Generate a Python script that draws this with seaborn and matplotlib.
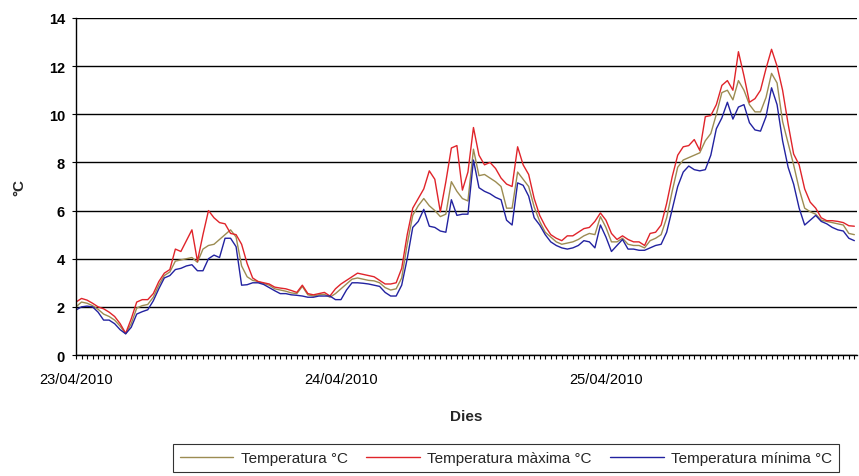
import numpy as np
import pandas as pd
import matplotlib
matplotlib.use('Agg')
import matplotlib.pyplot as plt
import matplotlib.dates as mdates
import seaborn as sns

# Lectures cada 30 minuts, 23/04/2010 00:00 -> 25/04/2010 ~22:30
temp = [2.0, 2.2, 2.15, 2.05, 1.9, 1.7, 1.6, 1.45, 1.2, 0.88,
        1.3, 1.95, 2.05, 2.1, 2.4, 2.9, 3.3, 3.45, 3.9, 3.95,
        4.0, 4.05, 3.85, 4.4, 4.55, 4.6, 4.8, 5.0, 5.2, 4.9,
        3.7, 3.25, 3.1, 3.05, 2.97, 2.9, 2.75, 2.7, 2.65, 2.58,
        2.55, 2.85, 2.5, 2.45, 2.5, 2.52, 2.4, 2.55, 2.75, 2.95,
        3.15, 3.2, 3.15, 3.1, 3.08, 3.0, 2.8, 2.7, 2.75, 3.2,
        4.6, 5.8, 6.2, 6.5, 6.2, 6.0, 5.75, 5.85, 7.2, 6.8,
        6.5, 6.4, 8.55, 7.45, 7.5, 7.35, 7.2, 7.0, 6.1, 6.1,
        7.6, 7.3, 7.0, 6.15, 5.55, 5.1, 4.9, 4.7, 4.6, 4.65,
        4.7, 4.8, 4.95, 5.05, 5.0, 5.75, 5.3, 4.7, 4.7, 4.85,
        4.6, 4.55, 4.55, 4.45, 4.75, 4.85, 5.0, 5.7, 6.8, 7.8,
        8.1, 8.2, 8.3, 8.4, 8.9, 9.2, 10.0, 10.9, 11.0, 10.6,
        11.4, 11.0, 10.4, 10.1, 10.1, 10.7, 11.7, 11.3, 9.7, 8.8,
        7.9, 6.9, 6.1, 5.95, 5.85, 5.6, 5.55, 5.5, 5.45, 5.4,
        5.05, 5.0]

temp_max = [2.2, 2.35, 2.28, 2.15, 2.0, 1.92, 1.78, 1.6, 1.3, 0.9,
            1.5, 2.2, 2.3, 2.3, 2.55, 3.05, 3.4, 3.55, 4.4, 4.3,
            4.75, 5.2, 3.9, 5.0, 6.0, 5.7, 5.5, 5.45, 5.05, 5.0,
            4.6, 3.8, 3.2, 3.05, 3.0, 2.95, 2.82, 2.78, 2.75, 2.68,
            2.6, 2.9, 2.55, 2.5, 2.55, 2.6, 2.45, 2.75, 2.95, 3.1,
            3.25, 3.4, 3.35, 3.3, 3.25, 3.1, 2.95, 2.95, 3.0, 3.6,
            5.0, 6.1, 6.5, 6.9, 7.65, 7.3, 5.95, 7.2, 8.6, 8.7,
            6.85, 7.6, 9.45, 8.3, 7.9, 8.0, 7.75, 7.35, 7.1, 7.0,
            8.65, 7.9, 7.5, 6.5, 5.8, 5.35, 5.0, 4.85, 4.75, 4.95,
            4.95, 5.1, 5.25, 5.3, 5.55, 5.9, 5.6, 5.05, 4.8, 4.95,
            4.8, 4.7, 4.7, 4.55, 5.05, 5.1, 5.4, 6.3, 7.4, 8.3,
            8.65, 8.7, 8.95, 8.5, 9.9, 9.95, 10.4, 11.2, 11.4, 11.0,
            12.6, 11.6, 10.5, 10.65, 11.0, 11.9, 12.7, 12.0, 11.0, 9.6,
            8.35, 7.9, 6.9, 6.35, 6.1, 5.7, 5.58, 5.58, 5.55, 5.5,
            5.37, 5.35]

temp_min = [1.87, 2.0, 2.03, 2.0, 1.78, 1.45, 1.45, 1.3, 1.05, 0.88,
            1.15, 1.7, 1.8, 1.88, 2.25, 2.75, 3.2, 3.3, 3.55, 3.6,
            3.7, 3.75, 3.5, 3.5, 4.0, 4.15, 4.05, 4.85, 4.85, 4.5,
            2.9, 2.92, 3.0, 3.0, 2.93, 2.8, 2.67, 2.55, 2.55, 2.5,
            2.48, 2.45, 2.4, 2.4, 2.45, 2.45, 2.45, 2.3, 2.3, 2.7,
            3.0, 3.0, 2.98, 2.95, 2.9, 2.85, 2.6, 2.45, 2.45, 2.9,
            4.0, 5.3, 5.55, 6.05, 5.35, 5.3, 5.15, 5.1, 6.45, 5.8,
            5.85, 5.85, 8.1, 6.95, 6.8, 6.7, 6.55, 6.45, 5.6, 5.4,
            7.15, 7.05, 6.6, 5.7, 5.4, 5.0, 4.7, 4.55, 4.45, 4.4,
            4.45, 4.55, 4.75, 4.7, 4.45, 5.4, 4.9, 4.3, 4.55, 4.8,
            4.4, 4.4, 4.35, 4.35, 4.45, 4.55, 4.6, 5.1, 6.05, 7.0,
            7.6, 7.85, 7.7, 7.65, 7.7, 8.3, 9.4, 9.85, 10.5, 9.8,
            10.3, 10.4, 9.65, 9.35, 9.3, 9.9, 11.1, 10.4, 8.9, 7.8,
            7.1, 6.1, 5.4, 5.6, 5.8, 5.55, 5.45, 5.3, 5.2, 5.15,
            4.85, 4.75]

series = ['Temperatura °C', 'Temperatura màxima °C', 'Temperatura mínima °C']
colors = ['#9c8c52', '#e0242a', '#2222a0']
y_ticks = [0, 2, 4, 6, 8, 10, 12, 14]

hores = pd.date_range('2010-04-23 00:00', periods=len(temp), freq='30min')

df = pd.DataFrame({'Hora': hores, series[0]: temp,
                   series[1]: temp_max, series[2]: temp_min})
df = df.melt(id_vars='Hora', var_name='Serie', value_name='Valor')

sns.set_style('white')
plt.rcParams['font.family'] = ['Liberation Sans', 'DejaVu Sans']

W, H = 859, 477
fig = plt.figure(figsize=(W / 100, H / 100), dpi=100)
ax = fig.add_axes([76 / W, 1 - 356 / H, 781 / W, 337 / H])

sns.lineplot(data=df, x='Hora', y='Valor', hue='Serie', hue_order=series,
             palette=colors, linewidth=1.0, ax=ax, legend=False)

ax.set_ylim(0, 14)
ax.set_yticks(y_ticks)
ax.set_xlim(hores[0], hores[0] + pd.Timedelta(hours=70.74))

ax.yaxis.grid(True, color='black', linewidth=1.0)
ax.set_axisbelow(True)
for s in ['top', 'right']:
    ax.spines[s].set_visible(False)
for s in ['left', 'bottom']:
    ax.spines[s].set_color('black')
    ax.spines[s].set_linewidth(1.0)

ax.xaxis.set_major_locator(mdates.DayLocator())
ax.xaxis.set_major_formatter(mdates.DateFormatter('%d/%m/%Y'))
ax.xaxis.set_minor_locator(mdates.MinuteLocator(byminute=[0, 30]))
ax.tick_params(axis='x', which='major', direction='out', length=3, width=0.8,
               pad=9, labelsize=10.5, colors='black', bottom=True)
ax.tick_params(axis='x', which='minor', direction='out', length=3, width=0.8,
               colors='black', bottom=True)
ax.tick_params(axis='y', direction='out', length=3, width=0.8, pad=5,
               labelsize=10.5, colors='black', left=True)
for lab in ax.get_yticklabels():
    lab.set_fontweight('bold')

ax.set_xlabel('Dies', fontsize=11, fontweight='bold')
ax.set_ylabel('°C', fontsize=11, fontweight='bold')
ax.xaxis.set_label_coords(0.5, (356 - 410) / 337)
ax.yaxis.set_label_coords((26 - 76) / 781, 0.5)

leg = fig.legend(handles=ax.lines[:3], labels=series, loc='upper center',
                 bbox_to_anchor=(506 / W, 1 - 445 / H), ncol=3, fontsize=11,
                 frameon=True, fancybox=False, edgecolor='black',
                 handlelength=3.5, handletextpad=0.5, columnspacing=1.2,
                 borderpad=0.45, borderaxespad=0)
leg.get_frame().set_linewidth(0.8)

fig.savefig('out.png', dpi=100)
